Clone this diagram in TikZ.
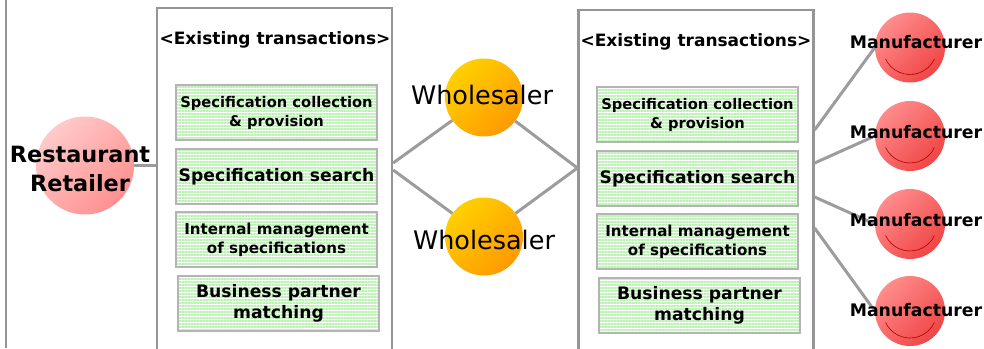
\documentclass[tikz,border=0pt]{standalone}
\usepackage{fontspec}
\setmainfont{DejaVu Sans}
\usetikzlibrary{patterns.meta}
\definecolor{framegray}{HTML}{959595}
\definecolor{boxgray}{HTML}{B4B4B4}
\definecolor{linegray}{HTML}{9C9C9C}
\definecolor{stripe}{HTML}{BDF2B5}
\definecolor{pinklight}{HTML}{FFCACA}
\definecolor{pinkdark}{HTML}{FF9090}
\definecolor{goldlight}{HTML}{FFD000}
\definecolor{golddark}{HTML}{FF9A00}
\definecolor{redlight}{HTML}{FF8C8C}
\definecolor{reddark}{HTML}{F04545}
\tikzset{
  frame/.style={draw=framegray,line width=2.2pt,minimum width=235pt,minimum height=345pt,inner sep=0pt},
  title/.style={font=\bfseries\fontsize{17}{20}\selectfont},
  task/.style={draw=boxgray,line width=1.8pt,pattern={Lines[angle=0,distance=3pt,line width=1.4pt]},pattern color=stripe,
    minimum width=201pt,minimum height=55pt,inner sep=0pt,align=center,font=\bfseries},
  link/.style={draw=linegray,line width=3pt},
  ball/.style={circle,inner sep=0pt,minimum size=#1},
  retail/.style={ball=98pt,top color=pinklight,bottom color=pinkdark,shading angle=45},
  whole/.style={ball=78pt,top color=goldlight,bottom color=golddark,shading angle=45},
  maker/.style={ball=70pt,top color=redlight,bottom color=reddark,shading angle=45,
    path picture={\draw[red!70!black,line width=.6pt] ([shift={(25:27)}]path picture bounding box.center) arc (25:155:27);}},
}
\begin{document}
\begin{tikzpicture}[x=1pt,y=-1pt]
\useasboundingbox (0,0) rectangle (984,348);
\draw[framegray,line width=2pt] (5.5,0) -- (5.5,348);
% the two columns of existing transactions
\node[frame] (exL) at (274.5,180.5) {};
\node[frame] (exR) at (696,182.5) {};
\node[title] at (275,40) {<Existing transactions>};
\node[title] at (696,42) {<Existing transactions>};
\foreach \s/\x/\y in {L/276.5/0,R/697.5/2}{
  \node[task,font=\bfseries\fontsize{14.7}{19}\selectfont] (\s1) at (\x,112.5+\y) {Specification collection\\\& provision};
  \node[task,font=\bfseries\fontsize{17.2}{20}\selectfont] (\s2) at (\x,176.5+\y) {Specification search};
  \node[task,font=\bfseries\fontsize{15.1}{19}\selectfont] (\s3) at (\x,239.5+\y) {Internal management\\of specifications};
  \node[task,font=\bfseries\fontsize{17.2}{21}\selectfont] (\s4) at (\x+2,303.5+\y) {Business partner\\matching};
}
% partners
\node[retail] (rest) at (85,165.5) {};
\node[whole] (wh1) at (484,97.5) {};
\node[whole] (wh2) at (484,236.5) {};
\foreach \i/\y in {1/47.5,2/136,3/224,4/311}
  \node[maker] (mf\i) at (910,\y) {};
% connectors
\coordinate (jl1) at (exL.east |- 0,163);
\coordinate (jl2) at (exL.east |- 0,170);
\coordinate (jr) at (exR.west |- 0,168);
\draw[link] (rest.east) -- (exL.west |- rest);
\draw[link] (jl1) -- (wh1) -- (jr);
\draw[link] (jl2) -- (wh2) -- (jr);
\foreach \i/\y in {1/130,2/163,3/197,4/228}
  \draw[link] (exR.east |- 0,\y) -- (mf\i.west);
% labels
\node[align=center,font=\bfseries\fontsize{22.4}{29}\selectfont] at (80,169) {Restaurant\\Retailer};
\node[font=\fontsize{25.5}{28}\selectfont] at (482,95) {Wholesaler};
\node[font=\fontsize{25.5}{28}\selectfont] at (484,240) {Wholesaler};
\foreach \i/\y in {1/42,2/132,3/220,4/310}
  \node[font=\bfseries\fontsize{17.3}{20}\selectfont] at (916,\y) {Manufacturer};
\end{tikzpicture}
\end{document}
